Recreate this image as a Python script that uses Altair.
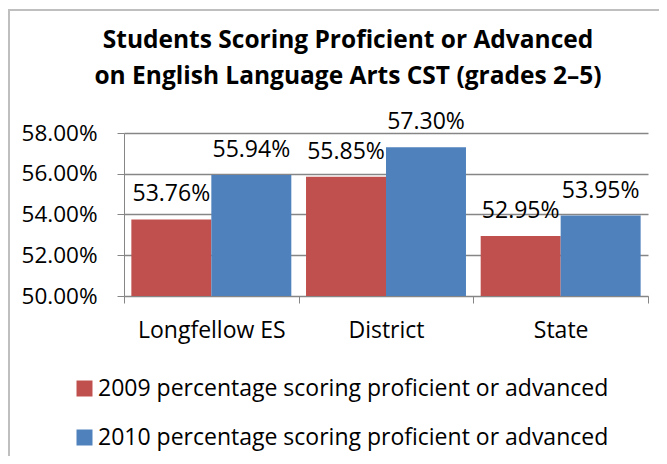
import altair as alt
import pandas as pd

categories = ["Longfellow ES", "District", "State"]
series = ["2009 percentage scoring proficient or advanced",
          "2010 percentage scoring proficient or advanced"]
values_2009 = [0.5376, 0.5585, 0.5295]
values_2010 = [0.5594, 0.5730, 0.5395]
y_ticks = [0.50, 0.52, 0.54, 0.56, 0.58]
colors = ["#C0504D", "#4F81BD"]

rows = []
for c, v in zip(categories, values_2009):
    rows.append({"cat": c, "series": series[0], "value": v})
for c, v in zip(categories, values_2010):
    rows.append({"cat": c, "series": series[1], "value": v})
df = pd.DataFrame(rows)

FONT = "Open Sans"
FS = 23

x_enc = alt.X("cat:N", sort=categories, title=None,
              scale=alt.Scale(paddingInner=0, paddingOuter=0),
              axis=alt.Axis(labelAngle=0, labelFontSize=FS, labelFont=FONT, labelColor="#000000",
                            labelPadding=16, tickSize=7, tickBand="extent",
                            domainColor="#868686", tickColor="#868686", grid=False))
xoff = alt.XOffset("series:N", sort=series,
                   scale=alt.Scale(paddingInner=0, paddingOuter=0.092))
y_scale = alt.Scale(domain=[0.50, 0.58], zero=False, nice=False)

bars = alt.Chart(df).mark_bar().encode(
    x=x_enc,
    xOffset=xoff,
    y=alt.Y("value:Q", scale=y_scale, title=None,
            axis=alt.Axis(values=y_ticks, format=".2%", labelFontSize=22.5, labelFont=FONT,
                          labelColor="#000000", labelPadding=20, tickSize=7,
                          domainColor="#868686", tickColor="#868686",
                          gridColor="#868686", gridWidth=1.3)),
    y2=alt.datum(0.50),
    color=alt.Color("series:N", sort=series,
                    scale=alt.Scale(domain=series, range=colors),
                    legend=alt.Legend(title=None, orient="none", legendX=-51, legendY=244,
                                      direction="vertical", symbolType="square", symbolSize=256,
                                      symbolStrokeWidth=0, labelFontSize=FS, labelFont=FONT,
                                      labelColor="#000000", labelLimit=700, labelOffset=2,
                                      rowPadding=25, padding=0)),
)

labels = alt.Chart(df).mark_text(fontSize=FS, font=FONT, color="#000000",
                                 baseline="alphabetic", dy=-18).encode(
    x=alt.X("cat:N", sort=categories),
    xOffset=xoff,
    y=alt.Y("value:Q", scale=y_scale),
    text=alt.Text("value:Q", format=".2%"),
)

border = alt.Chart(pd.DataFrame({"a": [0]})).mark_rect(
    fill=None, stroke="#BFBFBF", strokeWidth=2).encode(
    x=alt.value(-115), x2=alt.value(560), y=alt.value(-123), y2=alt.value(400))

chart = alt.layer(border, bars, labels).properties(
    width=524, height=163,
    title=alt.TitleParams(
        text=["Students Scoring Proficient or Advanced",
              "on English Language Arts CST (grades 2–5)"],
        font=FONT, fontSize=24.5, fontWeight="bold", color="#000000",
        anchor="middle", frame="group", dx=-38, offset=-80, lineHeight=36),
    autosize=alt.AutoSizeParams(type="none"),
    padding={"left": 116, "top": 125, "right": 11, "bottom": 160},
).configure_view(stroke=None)

chart.save("out.html", embed_options={"renderer": "svg", "actions": False})
